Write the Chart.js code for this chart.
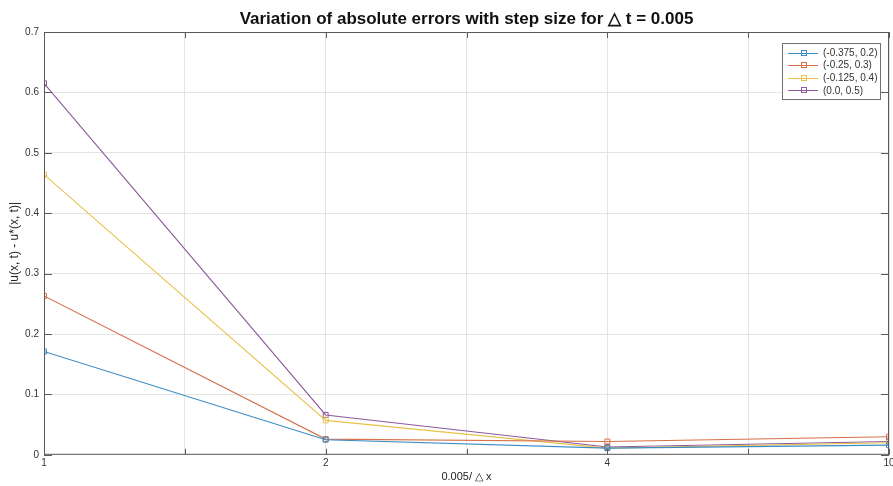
<!DOCTYPE html>
<html>
<head>
<meta charset="utf-8">
<script src="https://cdn.jsdelivr.net/npm/chart.js@4"></script>
<style>
  html, body { margin: 0; padding: 0; background: #fff; overflow: hidden; }
  #wrap { width: 900px; height: 486px; }
</style>
</head>
<body>
<div id="wrap"><canvas id="errChart"></canvas></div>
<script>
// step ratio categories (0.005 / dx), drawn evenly spaced
const categories = ['1', '2', '4', '10'];
const yTicks = [0, 0.1, 0.2, 0.3, 0.4, 0.5, 0.6, 0.7];

const seriesNames = ['(-0.375, 0.2)', '(-0.25, 0.3)', '(-0.125, 0.4)', '(0.0, 0.5)'];
const errA = [0.171, 0.025, 0.011, 0.016];
const errB = [0.263, 0.026, 0.022, 0.030];
const errC = [0.464, 0.057, 0.011, 0.020];
const errD = [0.615, 0.066, 0.013, 0.022];
const colors = ['#3a8cc6', '#d6714a', '#e8c04a', '#8e5a9c'];

const titleText = 'Variation of absolute errors with step size for \u25B3 t = 0.005';
const allSeries = [errA, errB, errC, errD];

const datasets = allSeries.map((vals, i) => ({
    label: seriesNames[i],
    data: vals.map((v, j) => ({ x: j, y: v })),
    borderColor: colors[i],
    backgroundColor: 'rgba(0,0,0,0)',
    borderWidth: 1.1,
    pointStyle: 'rect',
    pointRadius: 3.5,
    pointBorderWidth: 1,
    pointBorderColor: colors[i],
    pointBackgroundColor: 'rgba(0,0,0,0)',
    tension: 0
}));

// box round the axes, inward ticks, title over the axes, and the legend box
const boxPlugin = {
    id: 'matlabBox',
    afterDraw(chart) {
        const c = chart.ctx;
        const a = chart.chartArea;
        const xs = chart.scales.x, ys = chart.scales.y;
        c.save();
        c.strokeStyle = '#5a5a5a';
        c.lineWidth = 1;
        c.beginPath();
        c.moveTo(a.left + 0.5, a.top + 0.5);
        c.lineTo(a.right - 0.5, a.top + 0.5);
        c.lineTo(a.right - 0.5, a.bottom);
        c.moveTo(a.left + 0.5, a.top);
        c.lineTo(a.left + 0.5, a.bottom - 0.5);
        c.lineTo(a.right, a.bottom - 0.5);
        for (let v = 0; v <= 3; v += 0.5) {
            const px = Math.round(xs.getPixelForValue(v)) + 0.5;
            c.moveTo(px, a.bottom); c.lineTo(px, a.bottom - 6);
            c.moveTo(px, a.top); c.lineTo(px, a.top + 6);
        }
        yTicks.forEach(v => {
            const py = Math.round(ys.getPixelForValue(v)) + 0.5;
            c.moveTo(a.left, py); c.lineTo(a.left + 8, py);
            c.moveTo(a.right, py); c.lineTo(a.right - 8, py);
        });
        c.stroke();

        // title, centred over the plot area
        c.fillStyle = '#111';
        c.font = 'bold 17px "Liberation Sans", Arial, sans-serif';
        c.textAlign = 'center';
        c.textBaseline = 'middle';
        c.fillText(titleText, (a.left + a.right) / 2, 19);

        // legend
        const lx = 782, ly = 43, lw = 98, lh = 56;
        c.fillStyle = '#fff';
        c.fillRect(lx, ly, lw, lh);
        c.strokeStyle = '#707070';
        c.strokeRect(lx + 0.5, ly + 0.5, lw, lh);
        c.font = '10px "Liberation Sans", Arial, sans-serif';
        c.textAlign = 'left';
        chart.data.datasets.forEach((ds, i) => {
            const y = ly + 9.5 + i * 12.6;
            c.strokeStyle = ds.borderColor;
            c.beginPath();
            c.moveTo(lx + 6, Math.round(y) + 0.5);
            c.lineTo(lx + 36, Math.round(y) + 0.5);
            c.stroke();
            c.strokeRect(lx + 19.5, Math.round(y) - 2.5, 5, 5);
            c.fillStyle = '#333';
            c.fillText(ds.label, lx + 41, y + 0.5);
        });
        c.restore();
    }
};

new Chart(document.getElementById('errChart'), {
    type: 'line',
    data: { datasets },
    options: {
        responsive: true,
        maintainAspectRatio: false,
        animation: false,
        layout: { padding: { left: 0, right: 11, top: 32, bottom: 0 } },
        plugins: {
            legend: { display: false },
            tooltip: { enabled: false },
            title: { display: false }
        },
        scales: {
            x: {
                type: 'linear',
                min: 0,
                max: categories.length - 1,
                grid: { color: '#e4e4e4', drawTicks: false },
                border: { display: false },
                ticks: {
                    stepSize: 0.5,
                    autoSkip: false,
                    maxRotation: 0,
                    padding: 2,
                    color: '#333',
                    font: { family: '"Liberation Sans", Arial, sans-serif', size: 10 },
                    callback: v => Number.isInteger(v) ? categories[v] : ''
                },
                title: {
                    display: true,
                    text: '0.005/ \u25B3 x',
                    color: '#222',
                    font: { family: '"Liberation Sans", Arial, sans-serif', size: 11 },
                    padding: { top: 0, bottom: 2 }
                }
            },
            y: {
                min: 0,
                max: 0.7,
                grid: { color: '#e4e4e4', drawTicks: false },
                border: { display: false },
                ticks: {
                    stepSize: 0.1,
                    padding: 5,
                    color: '#333',
                    font: { family: '"Liberation Sans", Arial, sans-serif', size: 10 },
                    callback: v => String(Math.round(v * 10) / 10)
                },
                title: {
                    display: true,
                    text: '|u(x, t) - u*(x, t)|',
                    color: '#222',
                    font: { family: '"Liberation Sans", Arial, sans-serif', size: 12 },
                    padding: { top: 7, bottom: 0 }
                },
                afterFit: s => { s.width = 44; }
            }
        }
    },
    plugins: [boxPlugin]
});
</script>
</body>
</html>
